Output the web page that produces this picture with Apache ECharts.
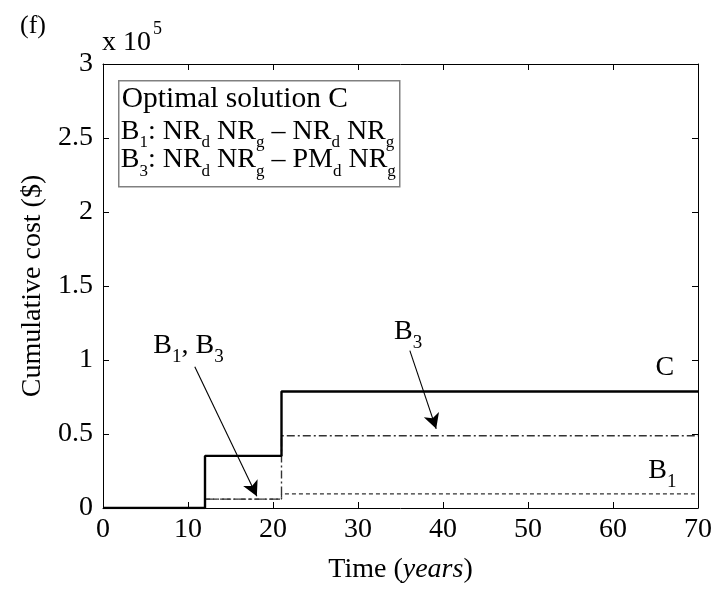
<!DOCTYPE html>
<html>
<head>
<meta charset="utf-8">
<script src="https://cdn.jsdelivr.net/npm/echarts@6/dist/echarts.min.js"></script>
<style>
  html, body { margin: 0; padding: 0; background: #fff; }
  #chart { width: 725px; height: 592px; }
</style>
</head>
<body>
<div id="chart"></div>
<script>
// Step-wise cumulative cost of the optimal maintenance solution and its two blocks
const years  = [0, 12, 21, 70];
const costC  = [0, 35200, 78700, 78700];
const costB1 = [0, 6000, 9500, 9500];
const costB3 = [0, 6000, 48800, 48800];

const xTickLabels = ['0', '10', '20', '30', '40', '50', '60', '70'];
const yTickLabels = ['0', '0.5', '1', '1.5', '2', '2.5', '3'];

const FONT = 'Liberation Serif';

// rich-text styles: normal, subscript, italic, legend heading, legend subscript
const rich = {
  n: { fontFamily: FONT, fontSize: 28, lineHeight: 30, color: '#000' },
  s: { fontFamily: FONT, fontSize: 19, lineHeight: 6, padding: [23, 0, 0, 0], color: '#000' },
  i: { fontFamily: FONT, fontSize: 28, lineHeight: 30, color: '#000', fontStyle: 'italic' },
  h: { fontFamily: FONT, fontSize: 29.5, lineHeight: 30, color: '#000' },
  ls: { fontFamily: FONT, fontSize: 17, lineHeight: 6, padding: [23, 0, 0, 0], color: '#000' }
};

const pairs = (xs, ys) => xs.map((x, k) => [x, ys[k]]);

function textLabel(coord, text) {
  return {
    coord: coord,
    symbol: 'circle',
    symbolSize: 1,
    itemStyle: { color: 'rgba(0,0,0,0)' },
    label: {
      show: true, position: 'inside', align: 'center', verticalAlign: 'middle',
      formatter: text, rich: rich
    }
  };
}

function arrow(from, to) {
  return [{ coord: from }, { coord: to }];
}

const axisCommon = {
  axisLine: { show: true, onZero: false, lineStyle: { color: '#000', width: 1 } },
  axisTick: { show: true, inside: true, length: 6, lineStyle: { color: '#000', width: 1 } },
  splitLine: { show: false }
};

const chart = echarts.init(document.getElementById('chart'));
chart.setOption({
  animation: false,
  backgroundColor: '#fff',
  grid: { left: 103, right: 27, top: 64, bottom: 84, containLabel: false },
  xAxis: [
    Object.assign({}, axisCommon, {
      type: 'value', min: 0, max: 70, interval: 10, position: 'bottom',
      name: '{n|Time (}{i|years}{n|)}',
      nameLocation: 'middle', nameGap: 47,
      nameTextStyle: { rich: rich },
      axisLabel: {
        margin: 8, fontFamily: FONT, fontSize: 28, color: '#000',
        formatter: v => xTickLabels[Math.round(v / 10)]
      }
    }),
    Object.assign({}, axisCommon, {
      type: 'value', min: 0, max: 70, interval: 10, position: 'top',
      axisLabel: { show: false }
    })
  ],
  yAxis: [
    Object.assign({}, axisCommon, {
      type: 'value', min: 0, max: 300000, interval: 50000, position: 'left',
      name: 'Cumulative cost ($)',
      nameLocation: 'middle', nameGap: 56,
      nameTextStyle: { fontFamily: FONT, fontSize: 28, color: '#000', lineHeight: 28 },
      axisLabel: {
        margin: 10, fontFamily: FONT, fontSize: 28, color: '#000',
        formatter: v => yTickLabels[Math.round(v / 50000)]
      }
    }),
    Object.assign({}, axisCommon, {
      type: 'value', min: 0, max: 300000, interval: 50000, position: 'right',
      axisLabel: { show: false }
    })
  ],
  series: [
    {
      name: 'B1', type: 'line', step: 'end', symbol: 'none',
      data: pairs(years, costB1),
      lineStyle: { color: '#333', width: 1.3, type: [4, 3] },
      z: 2
    },
    {
      name: 'B3', type: 'line', step: 'end', symbol: 'none',
      data: pairs(years, costB3),
      lineStyle: { color: '#333', width: 1.4, type: [8, 3, 2, 3] },
      z: 3
    },
    {
      name: 'C', type: 'line', step: 'end', symbol: 'none',
      data: pairs(years, costC),
      lineStyle: { color: '#000', width: 2.4, type: 'solid' },
      z: 4,
      markPoint: {
        silent: true,
        data: [
          textLabel([66.1, 95100], '{n|C}'),
          textLabel([65.8, 25400], '{n|B}{s|1}'),
          textLabel([35.9, 119000], '{n|B}{s|3}'),
          textLabel([10.06, 110000], '{n|B}{s|1}{n|, B}{s|3}')
        ]
      },
      markLine: {
        silent: true,
        symbol: ['none', 'arrow'],
        symbolSize: [12, 15],
        label: { show: false },
        lineStyle: { color: '#000', width: 1.1, type: 'solid' },
        data: [
          arrow([36.1, 106300], [39.2, 53500]),
          arrow([10.8, 95500], [18.1, 8000])
        ]
      }
    }
  ],
  graphic: [
    { type: 'text', left: 20, top: 11,
      style: { text: '(f)', fontFamily: FONT, fontSize: 26, lineHeight: 30, fill: '#000' } },
    { type: 'text', left: 102, top: 28,
      style: { text: 'x 10', fontFamily: FONT, fontSize: 28, lineHeight: 30, fill: '#000' } },
    { type: 'text', left: 153, top: 19,
      style: { text: '5', fontFamily: FONT, fontSize: 18, lineHeight: 20, fill: '#000' } },
    {
      type: 'group', left: 118, top: 80,
      children: [
        { type: 'rect', shape: { x: 0, y: 0, width: 281, height: 106 },
          style: { fill: '#fff', stroke: '#808080', lineWidth: 1.5 } },
        { type: 'text', x: 3, y: 3.5,
          style: { text: '{h|Optimal solution C}', rich: rich, verticalAlign: 'top' } },
        { type: 'text', x: 2, y: 35.5,
          style: { text: '{n|B}{ls|1}{n|: NR}{ls|d}{n| NR}{ls|g}{n| \u2013 NR}{ls|d}{n| NR}{ls|g}', rich: rich, verticalAlign: 'top' } },
        { type: 'text', x: 2, y: 64,
          style: { text: '{n|B}{ls|3}{n|: NR}{ls|d}{n| NR}{ls|g}{n| \u2013 PM}{ls|d}{n| NR}{ls|g}', rich: rich, verticalAlign: 'top' } }
      ]
    }
  ]
});
</script>
</body>
</html>
